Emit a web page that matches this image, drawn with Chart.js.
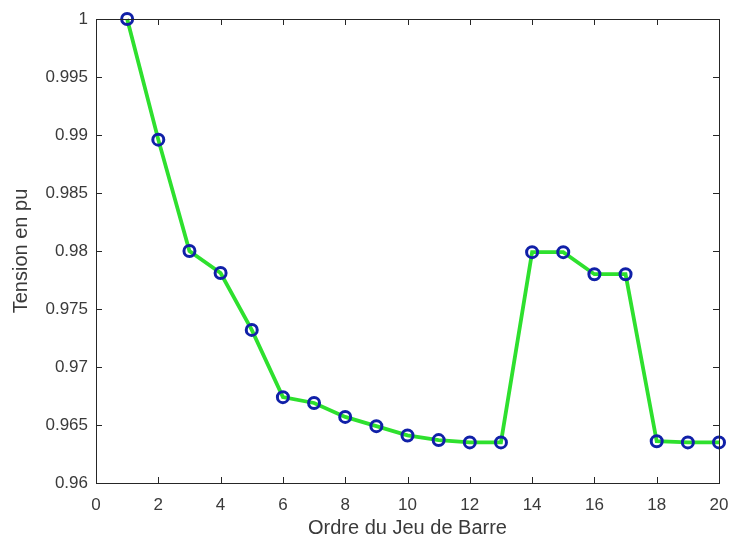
<!DOCTYPE html>
<html>
<head>
<meta charset="utf-8">
<script src="https://cdn.jsdelivr.net/npm/chart.js@4/dist/chart.umd.min.js"></script>
<style>
  html, body { margin: 0; padding: 0; background: #fff; }
  #c { display: block; }
</style>
</head>
<body>
<canvas id="c" width="732" height="539"></canvas>
<script>
// Data
const busOrder = [1, 2, 3, 4, 5, 6, 7, 8, 9, 10, 11, 12, 13, 14, 15, 16, 17, 18, 19, 20];
const voltagePu = [1.0, 0.9896, 0.9800, 0.9781, 0.9732, 0.9674, 0.9669, 0.9657, 0.9649, 0.9641,
                   0.9637, 0.9635, 0.9635, 0.9799, 0.9799, 0.9780, 0.9780, 0.9636, 0.9635, 0.9635];
const xTickValues = [0, 2, 4, 6, 8, 10, 12, 14, 16, 18, 20];
const yTickValues = [0.96, 0.965, 0.97, 0.975, 0.98, 0.985, 0.99, 0.995, 1];
const xTitle = 'Ordre du Jeu de Barre';
const yTitle = 'Tension en pu';

const axisColor = '#262626';
const textColor = '#3a3a3a';
const FONT = "Arial, 'Liberation Sans', Helvetica, sans-serif";

const boxAndTicks = {
  id: 'boxAndTicks',
  afterDatasetsDraw(chart) {
    const {ctx, chartArea: a, scales: {x, y}} = chart;
    const len = 6;
    ctx.save();
    ctx.strokeStyle = axisColor;
    ctx.lineWidth = 1;
    ctx.beginPath();
    x.ticks.forEach(t => {
      const px = Math.round(x.getPixelForValue(t.value)) + 0.5;
      ctx.moveTo(px, a.bottom); ctx.lineTo(px, a.bottom - len);
      ctx.moveTo(px, a.top); ctx.lineTo(px, a.top + len);
    });
    y.ticks.forEach(t => {
      const py = Math.round(y.getPixelForValue(t.value)) + 0.5;
      ctx.moveTo(a.left, py); ctx.lineTo(a.left + len, py);
      ctx.moveTo(a.right, py); ctx.lineTo(a.right - len, py);
    });
    ctx.stroke();
    ctx.strokeRect(Math.round(a.left) + 0.5, Math.round(a.top) + 0.5,
                   Math.round(a.right - a.left), Math.round(a.bottom - a.top));
    ctx.restore();
  }
};

new Chart(document.getElementById('c'), {
  type: 'line',
  data: {
    datasets: [{
      data: busOrder.map((b, i) => ({x: b, y: voltagePu[i]})),
      borderColor: '#2ee02e',
      borderWidth: 3.8,
      pointRadius: 5.5,
      pointBorderWidth: 3,
      pointBorderColor: '#1020a8',
      pointBackgroundColor: 'rgba(0,0,0,0)',
      pointHoverRadius: 5.5,
      tension: 0,
      fill: false,
      clip: false
    }]
  },
  options: {
    responsive: false,
    animation: false,
    devicePixelRatio: 1,
    layout: { padding: { left: 0, top: 19, right: 13, bottom: 0 } },
    plugins: { legend: { display: false }, tooltip: { enabled: false } },
    scales: {
      x: {
        type: 'linear',
        min: 0, max: 20,
        afterBuildTicks: s => { s.ticks = xTickValues.map(v => ({value: v})); },
        afterFit: s => { s.height = 56; s.paddingLeft = 0; s.paddingRight = 0; },
        grid: { display: false, drawTicks: false },
        border: { display: false },
        ticks: {
          padding: 12,
          color: textColor,
          font: { family: FONT, size: 17 },
          maxRotation: 0,
          autoSkip: false,
          callback: v => String(v)
        },
        title: {
          display: true,
          text: xTitle,
          color: textColor,
          font: { family: FONT, size: 20, lineHeight: 1.1 },
          padding: { top: 0, bottom: 0 }
        }
      },
      y: {
        type: 'linear',
        min: 0.96, max: 1,
        afterBuildTicks: s => { s.ticks = yTickValues.map(v => ({value: v})); },
        afterFit: s => { s.width = 96; s.paddingTop = 0; s.paddingBottom = 0; },
        grid: { display: false, drawTicks: false },
        border: { display: false },
        ticks: {
          padding: 8,
          color: textColor,
          font: { family: FONT, size: 17 },
          autoSkip: false,
          callback: v => String(Number(v.toFixed(3)))
        },
        title: {
          display: true,
          text: yTitle,
          color: textColor,
          font: { family: FONT, size: 20, lineHeight: 1.1 },
          padding: { top: 10, bottom: 0 }
        }
      }
    }
  },
  plugins: [boxAndTicks]
});
</script>
</body>
</html>
